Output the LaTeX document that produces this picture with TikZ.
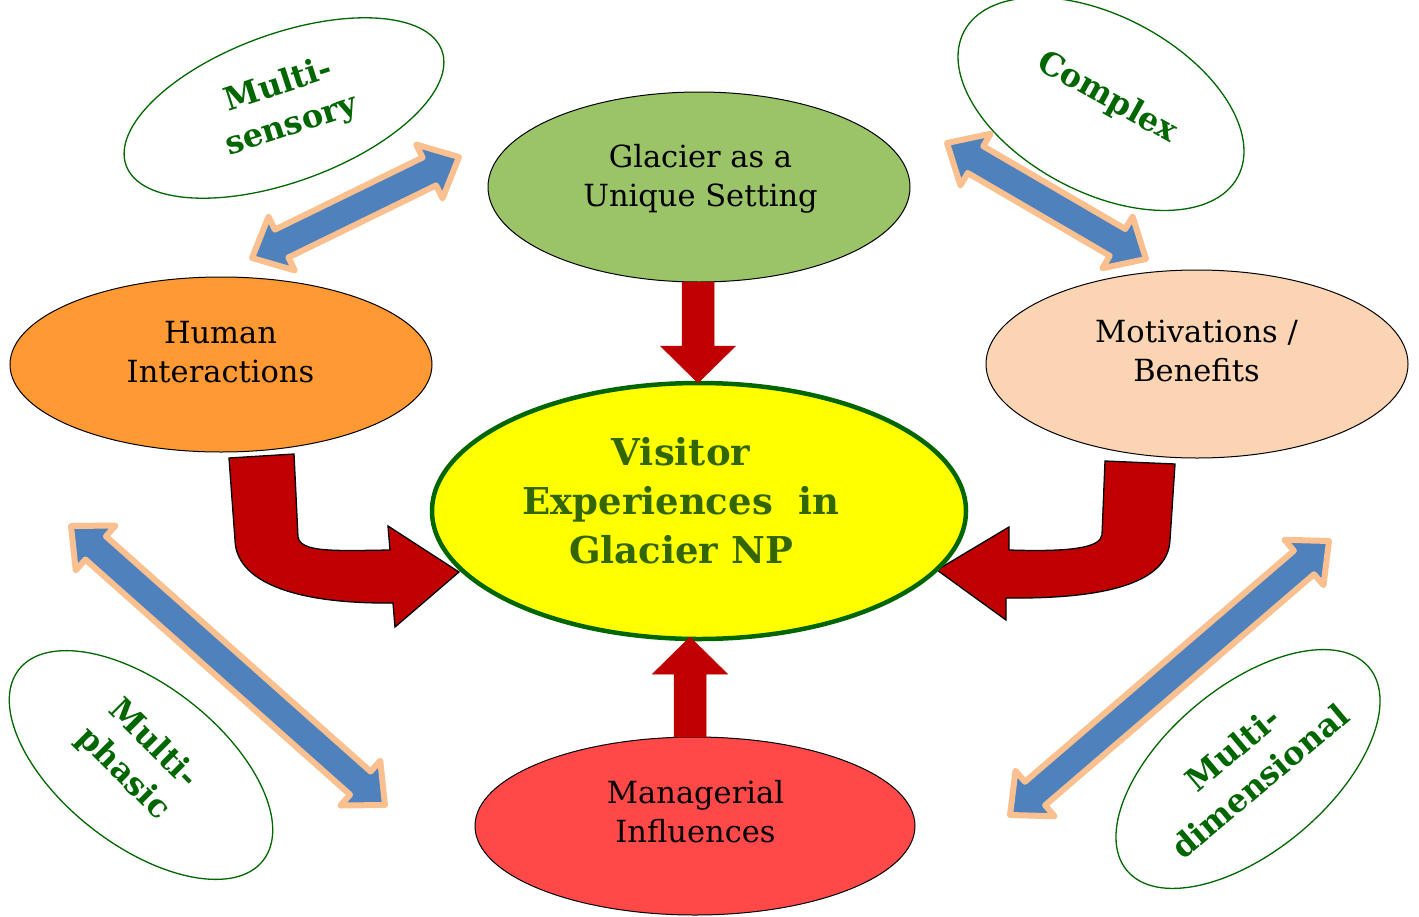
\documentclass[tikz,border=0pt]{standalone}
\usepackage{fontspec}
\setmainfont{DejaVu Serif}
\usetikzlibrary{shapes.geometric,calc}
\definecolor{visyellow}{HTML}{FFFF00}
\definecolor{visgreen}{HTML}{006600}
\definecolor{vistext}{HTML}{336600}
\definecolor{glaciergreen}{HTML}{9BC468}
\definecolor{humanorange}{HTML}{FF9933}
\definecolor{motpeach}{HTML}{FBD4B4}
\definecolor{mgmtred}{HTML}{FF4848}
\definecolor{arrred}{HTML}{C00000}
\definecolor{arrblue}{HTML}{4F81BD}
\definecolor{arrpeach}{HTML}{FAC090}
\definecolor{lblgreen}{HTML}{006600}
\tikzset{
  bigell/.style={ellipse, draw=black, line width=1pt, inner sep=0pt},
  smallell/.style={ellipse, draw=visgreen, line width=1.3pt, fill=white, inner sep=0pt},
  maintxt/.style={align=center, inner sep=0pt, font=\fontsize{30.5}{39}\selectfont},
  lbltxt/.style={align=center, inner sep=0pt, text=lblgreen, font=\fontsize{32}{42}\selectfont\bfseries},
  bluearr/.style={fill=arrblue, draw=arrpeach, line width=6pt, line join=round},
  redarr/.style={fill=arrred, draw=arrred, line width=0.5pt},
  redcurve/.style={fill=arrred, draw=black, line width=1.3pt, line join=miter},
}
\newcommand\dblarrow[2]{%
  \filldraw[bluearr]
   (#1)
   -- ($(#1)!33pt!(#2)!30pt!90:(#2)$)
   -- ($(#1)!33pt!(#2)!15.5pt!90:(#2)$)
   -- ($(#2)!33pt!(#1)!15.5pt!-90:(#1)$)
   -- ($(#2)!33pt!(#1)!30pt!-90:(#1)$)
   -- (#2)
   -- ($(#2)!33pt!(#1)!30pt!90:(#1)$)
   -- ($(#2)!33pt!(#1)!15.5pt!90:(#1)$)
   -- ($(#1)!33pt!(#2)!15.5pt!-90:(#2)$)
   -- ($(#1)!33pt!(#2)!30pt!-90:(#2)$)
   -- cycle;}
\newcommand\straightarrow[2]{%
  \filldraw[redarr]
   ($(#1)!16pt!90:(#2)$)
   -- ($(#2)!37pt!(#1)!16pt!-90:(#1)$)
   -- ($(#2)!37pt!(#1)!37.5pt!-90:(#1)$)
   -- (#2)
   -- ($(#2)!37pt!(#1)!37.5pt!90:(#1)$)
   -- ($(#2)!37pt!(#1)!16pt!90:(#1)$)
   -- ($(#1)!16pt!-90:(#2)$)
   -- cycle;}
\begin{document}
\begin{tikzpicture}[x=1pt,y=-1pt]
\useasboundingbox (0,0) rectangle (1419,916);

% small descriptor ellipses
\node[smallell, minimum width=336pt, minimum height=148pt, rotate=20] (sensory) at (284,108) {};
\node[smallell, minimum width=310pt, minimum height=176pt, rotate=-28] (complex) at (1101,104) {};
\node[smallell, minimum width=310pt, minimum height=160pt, rotate=-38] (phasic) at (141,765) {};
\node[smallell, minimum width=316pt, minimum height=164pt, rotate=40] (dimensional) at (1248,769) {};
\node[lbltxt, rotate=18] (sensorytxt) at (285,106) {Multi-\\sensory};
\node[lbltxt, rotate=-29] (complextxt) at (1107,98) {Complex};
\node[lbltxt, rotate=-45] (phasictxt) at (138,759) {Multi-\\phasic};
\node[lbltxt, rotate=40] (dimensionaltxt) at (1246,765) {Multi-\\dimensional};

% main ellipses
\node[bigell, fill=glaciergreen, minimum width=422pt, minimum height=190pt] (glacier) at (699,187) {};
\node[bigell, fill=humanorange, minimum width=422pt, minimum height=175pt] (human) at (221,364.5) {};
\node[bigell, fill=motpeach, minimum width=422pt, minimum height=188pt] (motiv) at (1197,364) {};
\node[bigell, fill=mgmtred, minimum width=440pt, minimum height=178pt] (mgmt) at (695,826) {};

\node[maintxt] (glaciertxt) at (700.5,178.7) {\strut Glacier as a\\Unique Setting\strut};
\node[maintxt] (humantxt) at (220.5,355.2) {\strut Human\\Interactions\strut};
\node[maintxt] (motivtxt) at (1196.5,354.2) {\strut Motivations /\\Benefits\strut};
\node[maintxt] (mgmttxt) at (695.5,815.2) {\strut Managerial\\Influences\strut};

% curved red arrows (behind centre ellipse)
\filldraw[redcurve] (229,458) -- (294,454) -- (298,537)
  .. controls (301,552) and (330,551) .. (390,550)
  -- (388,526) -- (459,572) -- (395,627) -- (393,603)
  .. controls (290,604) and (236,580) .. (235,540) -- cycle;
\filldraw[redcurve] (1105,461) -- (1175,464) -- (1170,540)
  .. controls (1168,585) and (1100,599) .. (1006,598)
  -- (1006,620) -- (937,570) -- (1009,527) -- (1009,550)
  .. controls (1070,552) and (1100,548) .. (1102,535) -- cycle;

% centre ellipse
\node[ellipse, draw=visgreen, line width=4.5pt, fill=visyellow, inner sep=0pt,
      minimum width=534pt, minimum height=256pt] (visitor) at (699,511) {};
\node[align=center, inner sep=0pt, text=vistext, font=\fontsize{37}{49}\selectfont\bfseries]
  (visitortxt) at (681,504.2) {\strut Visitor\\Experiences~~in\\Glacier NP\strut};

% straight red arrows
\coordinate (dnA) at (698,282);
\coordinate (dnB) at (698,383);
\coordinate (upA) at (690,737);
\coordinate (upB) at (690,637);
\straightarrow{dnA}{dnB}
\straightarrow{upA}{upB}

% blue double arrows
\coordinate (tlA) at (252,258);
\coordinate (tlB) at (459,157);
\coordinate (trA) at (947,143);
\coordinate (trB) at (1146,259);
\coordinate (blA) at (71,526);
\coordinate (blB) at (385,805);
\coordinate (brA) at (1329,541);
\coordinate (brB) at (1010,815);
\dblarrow{tlA}{tlB}
\dblarrow{trA}{trB}
\dblarrow{blA}{blB}
\dblarrow{brA}{brB}
\end{tikzpicture}
\end{document}
